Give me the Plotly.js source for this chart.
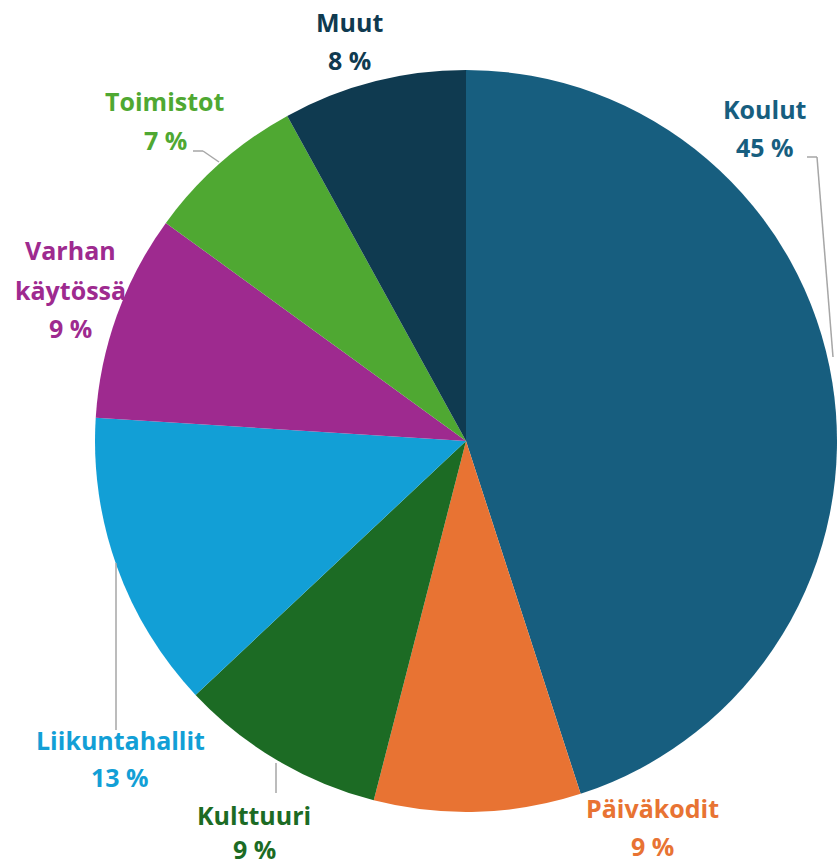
<!DOCTYPE html>
<html>
<head>
<meta charset="utf-8">
<script src="https://cdn.plot.ly/plotly-3.0.1.min.js"></script>
<style>html,body{margin:0;padding:0;background:#fff;}#chart{width:837px;height:867px;}</style>
</head>
<body>
<div id="chart"></div>
<script>
// Data
const categories = ["Koulut", "Päiväkodit", "Kulttuuri", "Liikuntahallit", "Varhan käytössä", "Toimistot", "Muut"];
const nameLines = [["Koulut"], ["Päiväkodit"], ["Kulttuuri"], ["Liikuntahallit"], ["Varhan", "käytössä"], ["Toimistot"], ["Muut"]];
const values = [45, 9, 9, 13, 9, 7, 8];
const pctLabels = ["45 %", "9 %", "9 %", "13 %", "9 %", "7 %", "8 %"];
const colors = ["#175e7f", "#e87333", "#1c6b24", "#129fd6", "#9e2a8f", "#4fa832", "#0f3a50"];

// Layout (pixel positions of labels, centered)
const W = 837, H = 867;
const labelPos = [
  {x: 765, y: [109, 147]},
  {x: 652, y: [808, 846]},
  {x: 254, y: [815, 849]},
  {x: 120, y: [740, 777]},
  {x: 70,  y: [250, 290, 328]},
  {x: 165, y: [101, 140]},
  {x: 349, y: [22, 60]}
];
const leaders = [
  [[807,157],[817,157],[833,357]],
  null,
  [[276,763],[276,793]],
  [[116,563],[116,730]],
  null,
  [[193,151],[203,151],[219,162]],
  null
];
const px = x => x / W;
const py = y => 1 - y / H;

const annotations = [];
categories.forEach((c, i) => {
  const lines = nameLines[i].concat([pctLabels[i]]);
  lines.forEach((t, j) => {
    annotations.push({
      text: "<b>" + t + "</b>", x: px(labelPos[i].x), y: py(labelPos[i].y[j]),
      xref: "paper", yref: "paper", xanchor: "center", yanchor: "middle",
      showarrow: false, font: {family: "'Open Sans', Lato, sans-serif", size: 25, color: colors[i]}
    });
  });
});
const shapes = [];
leaders.forEach(l => {
  if (!l) return;
  for (let k = 0; k < l.length - 1; k++) {
    shapes.push({type: "line", xref: "paper", yref: "paper",
      x0: px(l[k][0]), y0: py(l[k][1]), x1: px(l[k+1][0]), y1: py(l[k+1][1]),
      line: {color: "#a6a6a6", width: 1.5}});
  }
});

const cx = 466, cy = 441, r = 371;
const trace = {
  type: "pie", labels: categories, values: values, sort: false, direction: "clockwise", rotation: 0,
  marker: {colors: colors, line: {width: 0}}, textinfo: "none", hoverinfo: "label+percent",
  domain: {x: [px(cx - r), Math.min(1, px(cx + r))], y: [py(cy + r), py(cy - r)]}
};
Plotly.newPlot("chart", [trace], {
  width: W, height: H, margin: {l: 0, r: 0, t: 0, b: 0}, showlegend: false,
  paper_bgcolor: "#ffffff", annotations: annotations, shapes: shapes
}, {displayModeBar: false, staticPlot: true});
</script>
</body>
</html>
